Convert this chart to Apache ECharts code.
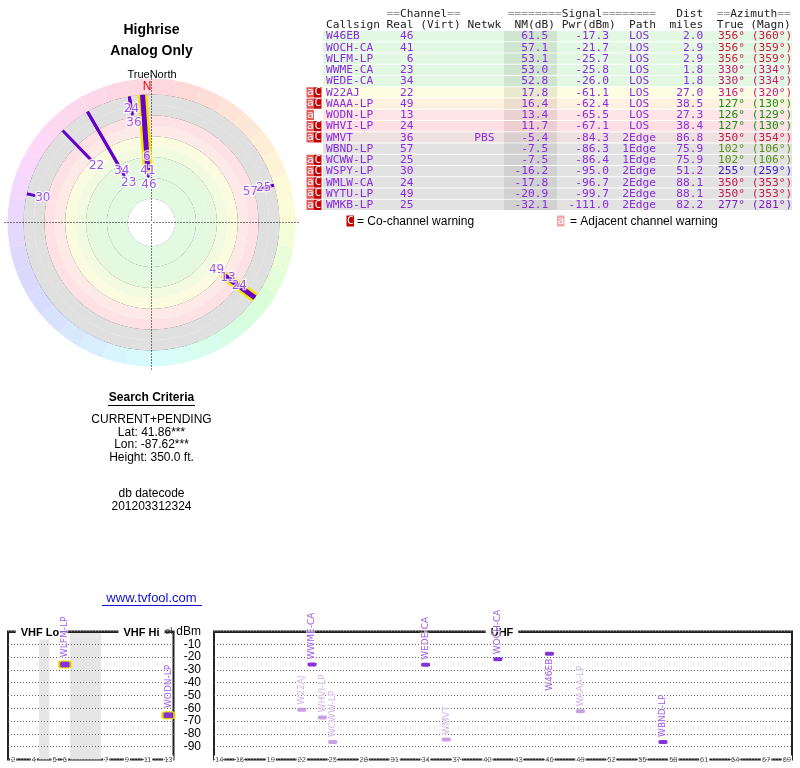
<!DOCTYPE html>
<html>
<head>
<meta charset="utf-8">
<script src="https://cdn.jsdelivr.net/npm/echarts@6/dist/echarts.min.js"></script>
<style>
	html, body { margin: 0; padding: 0; background: #fff; }
	#chart { width: 800px; height: 768px; }
</style>
</head>
<body>
<div id="chart"></div>
<script>
// station list, strongest first (as in the table)
const callsigns = ['W46EB', 'WOCH-CA', 'WLFM-LP', 'WWME-CA', 'WEDE-CA', 'W22AJ', 'WAAA-LP', 'WODN-LP',
	'WHVI-LP', 'WMVT', 'WBND-LP', 'WCWW-LP', 'WSPY-LP', 'WMLW-CA', 'WYTU-LP', 'WMKB-LP'];
const channels = [46, 41, 6, 23, 34, 22, 49, 13, 24, 36, 57, 25, 30, 24, 49, 25];
const networks = ['', '', '', '', '', '', '', '', '', 'PBS', '', '', '', '', '', ''];
const nmDb = [61.5, 57.1, 53.1, 53.0, 52.8, 17.8, 16.4, 13.4, 11.7, -5.4, -7.5, -7.5, -16.2, -17.8, -20.9, -32.1];
const pwrDbm = [-17.3, -21.7, -25.7, -25.8, -26.0, -61.1, -62.4, -65.5, -67.1, -84.3, -86.3, -86.4, -95.0, -96.7, -99.7, -111.0];
const paths = ['LOS', 'LOS', 'LOS', 'LOS', 'LOS', 'LOS', 'LOS', 'LOS', 'LOS', '2Edge', '1Edge', '1Edge', '2Edge', '2Edge', '2Edge', '2Edge'];
const distMiles = [2.0, 2.9, 2.9, 1.8, 1.8, 27.0, 38.5, 27.3, 38.4, 86.8, 75.9, 75.9, 51.2, 88.1, 88.1, 82.2];
const azTrue = [356, 356, 356, 330, 330, 316, 127, 126, 127, 350, 102, 102, 255, 350, 350, 277];
const azMagn = [360, 359, 359, 334, 334, 320, 130, 129, 130, 354, 106, 106, 259, 353, 353, 281];
const warnings = ['', '', '', '', '', 'aC', 'aC', 'a', 'aC', 'aC', '', 'aC', 'aC', 'aC', 'aC', 'aC'];
// bearing at which each station is drawn on the radar
const radarBearing = [356, 356, 356, 330, 330, 316, 126, 126, 126, 350, 73, 73, 283, 350, 350, 277];

// spectrum axes
const vhfSlots = ['2', '3', '4', 'gap1', '5', '6', 'gap2', 'gap3', 'gap4', '7', '8', '9', '10', '11', '12', '13'];
const vhfTickLabels = ['2', '4', '5', '6', '7', '9', '11', '13'];
const uhfTickLabels = ['14', '16', '19', '22', '25', '28', '31', '34', '37', '40', '43', '46', '49', '52', '55', '58', '61', '64', '67', '69'];
const uhfSlots = [];
for (let c = 14; c <= 69; c++) uhfSlots.push(String(c));

const searchLines = ['CURRENT+PENDING', 'Lat: 41.86***', 'Lon: -87.62***', 'Height: 350.0 ft.'];

const DARK = '#6600cc', DARK_TXT = '#8a2be2', LIGHT = '#bb88dd', LIGHT_TXT = '#c79be6';
const SANS = '"Liberation Sans", Arial, sans-serif';
const MONO = '11.2px "DejaVu Sans Mono", monospace';
const CX = 151.5, CY = 222.5;

// hue used for the compass ring and azimuth text
function azHue(az) {
	const pts = [[0, 350], [45, 385], [90, 430], [135, 490], [180, 540], [225, 585], [270, 625], [315, 680], [360, 710]];
	for (let i = 1; i < pts.length; i++) {
		if (az <= pts[i][0]) {
			const t = (az - pts[i - 1][0]) / (pts[i][0] - pts[i - 1][0]);
			return (pts[i - 1][1] + t * (pts[i][1] - pts[i - 1][1])) % 360;
		}
	}
	return 350;
}
function azTextColor(az) {
	const h = azHue(az);
	const l = (h > 60 && h < 170) ? 32 : 44;
	return 'hsl(' + h + ',78%,' + l + '%)';
}

function rowColors(nm) {
	if (nm >= 20) return ['#e3f8e3', '#cfe5cf'];
	if (nm >= 17) return ['#fdfde2', '#e9e9cf'];
	if (nm >= 15) return ['#fff1e0', '#ebdecf'];
	if (nm >= 12.5) return ['#ffe5e5', '#ebd2d2'];
	if (nm >= 10) return ['#ffdfe4', '#ebcdd2'];
	if (nm >= -6) return ['#efe0e0', '#dccfcf'];
	return ['#e2e2e2', '#d1d1d1'];
}

function txt(x, y, text, font, fill, align, z) {
	return {
		type: 'text', x: x, y: y, z: z || 1, silent: true,
		style: {
			text: text, font: font, fill: fill || '#000',
			align: align || 'center', verticalAlign: 'middle',
			textAlign: align || 'center', textVerticalAlign: 'middle'
		}
	};
}
function box(x, y, w, h, fill, z) {
	return { type: 'rect', z: z || 0, silent: true, shape: { x: x, y: y, width: w, height: h }, style: { fill: fill } };
}
function hline(x1, x2, y, color) {
	return { type: 'line', z: 1, silent: true, shape: { x1: x1, y1: y, x2: x2, y2: y }, style: { stroke: color, lineWidth: 1 } };
}

// ---------- graphic: titles, table, legend ----------
const graphics = [];
graphics.push(txt(CX, 30, 'Highrise', 'bold 14px ' + SANS));
graphics.push(txt(CX, 51, 'Analog Only', 'bold 14px ' + SANS));
graphics.push(txt(CX + 0.5, 75, 'TrueNorth', '11px ' + SANS));
graphics.push(txt(147, 87, 'N', '12px ' + SANS, '#ee0000', 'center', 6));
graphics.push(txt(CX, 398, 'Search Criteria', 'bold 12px ' + SANS));
graphics.push(hline(108, 195, 405.5, '#000'));
searchLines.forEach((s, i) => graphics.push(txt(CX, 420 + i * 12.5, s, '12px ' + SANS)));
graphics.push(txt(CX, 494, 'db datecode', '12px ' + SANS));
graphics.push(txt(CX, 506.5, '201203312324', '12px ' + SANS));
graphics.push(txt(CX, 598, 'www.tvfool.com', '13px ' + SANS, '#1010cc'));
graphics.push(hline(102, 202, 605.5, '#1010cc'));

const TX = 326, CW = 6.76, ROW_TOP = 31, ROW_H = 11.25;
const head1 = {
	type: 'text', x: TX, y: 14, z: 1, silent: true,
	style: {
		text: ' '.repeat(9) + '{e|==}Channel{e|==}' + ' '.repeat(7) + '{e|========}Signal{e|========}' + '   Dist  ' + '{e|==}Azimuth{e|==}',
		font: MONO, fill: '#222', align: 'left', verticalAlign: 'middle', textAlign: 'left', textVerticalAlign: 'middle',
		rich: { e: { fill: '#9a9a9a', font: MONO } }
	}
};
graphics.push(head1);
graphics.push(txt(TX, 25, 'Callsign Real (Virt) Netwk  NM(dB) Pwr(dBm)  Path  miles  True (Magn)', MONO, '#222', 'left'));

callsigns.forEach((cs, i) => {
	const top = ROW_TOP + i * ROW_H;
	const cols = rowColors(nmDb[i]);
	graphics.push(box(323, top, 469, ROW_H - 1, cols[0]));
	graphics.push(box(504, top, 53, ROW_H - 1, cols[1]));
	const path = paths[i] === 'LOS' ? ' LOS ' : paths[i];
	const line = cs.padEnd(9) + String(channels[i]).padStart(4) + ' '.repeat(9) + networks[i].padEnd(3) +
		nmDb[i].toFixed(1).padStart(8) + pwrDbm[i].toFixed(1).padStart(9) + '  ' + path + distMiles[i].toFixed(1).padStart(7);
	graphics.push(txt(TX, top + 5.4, line, MONO, DARK_TXT, 'left'));
	graphics.push(txt(TX + 58 * CW, top + 5.4, azTrue[i] + '° (' + azMagn[i] + '°)', MONO, azTextColor(azTrue[i]), 'left'));
	if (warnings[i].indexOf('a') >= 0) {
		graphics.push(box(306.5, top, 7.5, ROW_H - 1, '#e25c5c'));
		graphics.push(txt(310.3, top + 5, 'a', MONO, '#fff'));
	}
	if (warnings[i].indexOf('C') >= 0) {
		graphics.push(box(314, top, 7.5, ROW_H - 1, '#c40000'));
		graphics.push(txt(317.8, top + 5, 'C', MONO, '#fff'));
	}
});
graphics.push(box(346.5, 215.5, 7.5, 11, '#c40000'));
graphics.push(txt(350.3, 221, 'C', MONO, '#fff'));
graphics.push(txt(357, 221.5, '= Co-channel warning', '12px ' + SANS, '#000', 'left'));
graphics.push(box(557, 215.5, 7.5, 11, '#f4a6a6'));
graphics.push(txt(560.8, 221, 'a', MONO, '#fff'));
graphics.push(txt(570, 221.5, '= Adjacent channel warning', '12px ' + SANS, '#000', 'left'));

// spectrum panel titles (sit over the frame line)
[['VHF Lo', 40], ['VHF Hi', 141.5], ['UHF', 502]].forEach(t => {
	graphics.push({
		type: 'text', x: t[1], y: 633, z: 3, silent: true,
		style: {
			text: t[0], font: 'bold 11px ' + SANS, fill: '#000', align: 'center', verticalAlign: 'middle',
			textAlign: 'center', textVerticalAlign: 'middle', backgroundColor: '#fff', padding: [1, 5]
		}
	});
});

// ---------- polar radar ----------
const ringColors = [];
for (let a = 5; a < 360; a += 10) ringColors.push('hsl(' + azHue(a) + ',90%,92%)');
const bandColors = ['#ffffff', '#ffffff', '#e2f9e2', '#e2f9e2', '#e4f9e2', '#e6f9df', '#f2fbe0', '#fbfbdf',
	'#fde9e6', '#fde1e4', '#e0e0e0', '#e0e0e0'];
const ringLines = [];
for (let k = 0; k <= 12; k++) ringLines.push(k >= 2 && k % 2 === 0 ? '#444' : 'rgba(0,0,0,0)');

const NM_OUTER = -24, NM_INNER = 85;
const LABEL_IN = 9.4, LABEL_STEP = 14.7;   // in dB along the radius (~9px, ~14px)
const polarIdx = [];
nmDb.forEach((v, i) => { if (v > -20) polarIdx.push(i); });

// labels at same bearing get stacked outward along the radius
const labelNm = {};
polarIdx.forEach(i => {
	let v = nmDb[i] + LABEL_IN;
	polarIdx.forEach(j => {
		if (labelNm[j] !== undefined && Math.abs(radarBearing[j] - radarBearing[i]) <= 2)
			v = Math.min(v, labelNm[j] - LABEL_STEP);
	});
	labelNm[i] = v;
});

const series = [];
polarIdx.forEach(i => {
	const seg = [[nmDb[i], radarBearing[i]], [NM_OUTER, radarBearing[i]]];
	if (channels[i] <= 13) {
		series.push({
			type: 'line', coordinateSystem: 'polar', polarIndex: 3, silent: true, symbol: 'none', z: 2,
			data: seg, lineStyle: { color: '#f4e400', width: 10, cap: 'round' }
		});
	}
	series.push({
		type: 'line', coordinateSystem: 'polar', polarIndex: 3, silent: true, symbol: 'none', z: 2,
		data: seg, lineStyle: { color: DARK, width: channels[i] <= 13 ? 5 : 3, cap: 'round' }
	});
});
series.push({
	type: 'scatter', coordinateSystem: 'polar', polarIndex: 3, silent: true, symbolSize: 1, z: 5,
	itemStyle: { color: 'rgba(0,0,0,0)' },
	data: polarIdx.map(i => ({
		value: [labelNm[i], radarBearing[i]],
		label: {
			show: true, position: 'inside', formatter: String(channels[i]),
			color: DARK_TXT, fontSize: 12, fontFamily: '"DejaVu Sans", sans-serif',
			textBorderColor: '#fff', textBorderWidth: 2.5
		}
	}))
});

// ---------- spectrum ----------
function specItem(i) {
	const vhf = channels[i] <= 13;
	const weak = warnings[i].indexOf('C') >= 0;
	const below = pwrDbm[i] > -20;
	return {
		value: [String(channels[i]), pwrDbm[i]],
		symbol: 'roundRect',
		symbolSize: vhf ? [12, 7] : [9, 4],
		itemStyle: { color: weak ? LIGHT : DARK, borderColor: vhf ? '#f4e400' : 'rgba(0,0,0,0)', borderWidth: vhf ? 2 : 0 },
		label: {
			show: true, formatter: callsigns[i], rotate: 90,
			position: below ? 'bottom' : 'top', distance: 3,
			align: below ? 'right' : 'left', verticalAlign: 'middle',
			color: weak ? LIGHT_TXT : DARK_TXT, fontSize: 9, fontFamily: '"DejaVu Sans", sans-serif',
			textBorderColor: '#fff', textBorderWidth: 1.5
		}
	};
}
const specIdx = [];
pwrDbm.forEach((v, i) => { if (v > -90) specIdx.push(i); });
series.push({
	type: 'scatter', xAxisIndex: 0, yAxisIndex: 0, silent: true, z: 4,
	data: specIdx.filter(i => channels[i] <= 13).map(specItem)
});
series.push({
	type: 'scatter', xAxisIndex: 1, yAxisIndex: 1, silent: true, z: 4,
	data: specIdx.filter(i => channels[i] > 13).map(specItem)
});

const tickLabelStyle = {
	fontSize: 7.5, color: '#555', margin: 0, verticalAlign: 'middle',
	backgroundColor: '#fff', padding: [0, 1], fontFamily: SANS
};
const hidden = { axisLine: { show: false }, axisTick: { show: false }, axisLabel: { show: false }, splitLine: { show: false } };

const option = {
	animation: false,
	backgroundColor: '#fff',
	graphic: { elements: graphics },
	polar: [
		{ center: [CX, CY], radius: [128, 144] },
		{ center: [CX, CY], radius: [3, 128] },
		{ center: [CX, CY], radius: [0, 147] },
		{ center: [CX, CY], radius: [24, 128] }
	],
	angleAxis: [
		Object.assign({ polarIndex: 0, type: 'value', min: 0, max: 360, interval: 10, startAngle: 90, z: 0,
			splitArea: { show: true, areaStyle: { color: ringColors } } }, hidden),
		{ polarIndex: 1, type: 'value', min: 0, max: 360, startAngle: 90, show: false },
		Object.assign({}, hidden, { polarIndex: 2, type: 'value', min: 0, max: 360, interval: 90, startAngle: 90, z: 1,
			splitLine: { show: true, lineStyle: { color: '#000', width: 1, type: [1, 2] } } }),
		{ polarIndex: 3, type: 'value', min: 0, max: 360, startAngle: 90, show: false }
	],
	radiusAxis: [
		{ polarIndex: 0, type: 'value', show: false },
		Object.assign({}, hidden, { polarIndex: 1, type: 'value', min: 0, max: 12, interval: 1, z: 0,
			splitLine: { show: true, lineStyle: { color: ringLines, width: 1 } },
			splitArea: { show: true, areaStyle: { color: bandColors } } }),
		{ polarIndex: 2, type: 'value', show: false },
		{ polarIndex: 3, type: 'value', min: NM_OUTER, max: NM_INNER, inverse: true, show: false }
	],
	grid: [
		{ left: 8, top: 631.5, width: 165.5, height: 128, show: true, borderColor: '#222', borderWidth: 2, backgroundColor: 'rgba(0,0,0,0)' },
		{ left: 214, top: 631.5, width: 578, height: 128, show: true, borderColor: '#222', borderWidth: 2, backgroundColor: 'rgba(0,0,0,0)' }
	],
	xAxis: [
		{
			gridIndex: 0, type: 'category', data: vhfSlots, boundaryGap: true, z: 1,
			axisLine: { lineStyle: { color: '#222', width: 2 } }, axisTick: { show: false },
			axisLabel: Object.assign({ interval: (idx, v) => vhfTickLabels.indexOf(v) >= 0 }, tickLabelStyle),
			splitLine: { show: false },
			splitArea: { show: true, interval: 0, areaStyle: { color: vhfSlots.map(s => s.indexOf('gap') === 0 ? '#e6e6e6' : 'rgba(255,255,255,0)') } }
		},
		{
			gridIndex: 1, type: 'category', data: uhfSlots, boundaryGap: true, z: 1,
			name: 'Channel', nameLocation: 'start', nameGap: 2,
			nameTextStyle: { fontSize: 9.5, color: '#333', fontFamily: SANS, verticalAlign: 'middle' },
			axisLine: { lineStyle: { color: '#222', width: 2 } }, axisTick: { show: false },
			axisLabel: Object.assign({ interval: (idx, v) => uhfTickLabels.indexOf(v) >= 0 }, tickLabelStyle),
			splitLine: { show: false }
		}
	],
	yAxis: [
		{
			gridIndex: 0, type: 'value', min: -100, max: 0, interval: 10, z: 2,
			axisLine: { show: false }, axisTick: { show: false }, axisLabel: { show: false },
			splitLine: { show: true, lineStyle: { color: '#666', width: 1, type: [1, 2] } }
		},
		{
			gridIndex: 1, type: 'value', min: -100, max: 0, interval: 10, z: 2,
			axisLine: { show: false }, axisTick: { show: false },
			axisLabel: {
				margin: 13, fontSize: 12, color: '#000', fontFamily: SANS,
				formatter: v => v === 0 ? 'dBm' : (v === -100 ? '' : String(v))
			},
			splitLine: { show: true, lineStyle: { color: '#666', width: 1, type: [1, 2] } }
		}
	],
	series: series
};

const myChart = echarts.init(document.getElementById('chart'), null, { renderer: 'canvas' });
myChart.setOption(option);
</script>
</body>
</html>
